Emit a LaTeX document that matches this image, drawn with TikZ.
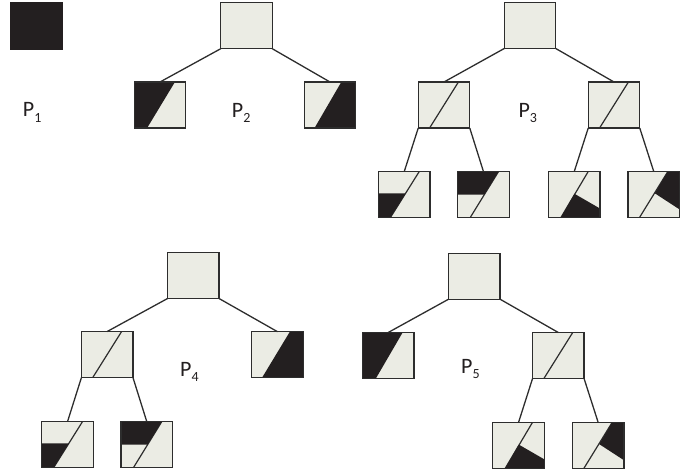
\documentclass[tikz,border=0pt]{standalone}
\usepackage{fontspec}
\setmainfont{Carlito}
\usetikzlibrary{calc}
\definecolor{lite}{RGB}{235,236,228}
\definecolor{dark}{RGB}{35,31,32}
\definecolor{edge}{RGB}{45,45,45}
\newcommand\inbox[2]{%
  \begin{scope}[shift={(#1.north west)}, x=51.5pt, y=-46pt]#2\end{scope}%
  \draw[boxline] (#1.north west) rectangle (#1.south east);}
\newcommand\sub[1]{\raisebox{-5.5pt}{\fontsize{14}{14}\selectfont #1}}
\begin{document}
\begin{tikzpicture}[x=1pt,y=-1pt,
  box/.style={draw=edge, line width=1.4pt, fill=lite, minimum width=51.5pt, minimum height=46pt, inner sep=0pt, outer sep=0pt},
  blackbox/.style={box, fill=dark, draw=dark},
  boxline/.style={draw=edge, line width=1.4pt},
  link/.style={draw=edge, line width=1.3pt},
  diag/.style={draw=edge, line width=1.2pt},
  lbl/.style={font=\fontsize{22}{22}\selectfont, inner sep=0pt, anchor=base west, text=dark},
  halfL/.code={}, 
]
\useasboundingbox (0,0) rectangle (700,474);
% P1
\node[blackbox] (a1) at (36.7,26) {};
\node[lbl] (l1) at (22.7,116.7) {P\sub{1}};
% P2
\node[box] (b0) at (246.5,25.7) {};
\node[box] (b1) at (160,105) {};
\node[box] (b2) at (330,105) {};
\node[lbl] (l2) at (231.7,117) {P\sub{2}};
% P3
\node[box] (c0) at (530,25.5) {};
\node[box] (c1) at (444,105) {};
\node[box] (c2) at (614,105) {};
\node[box] (c11) at (404.2,194.7) {};
\node[box] (c12) at (483.5,194.7) {};
\node[box] (c21) at (574.2,194.7) {};
\node[box] (c22) at (653.8,194.7) {};
\node[lbl] (l3) at (518.3,117) {P\sub{3}};
% P4
\node[box] (d0) at (193.3,275.5) {};
\node[box] (d1) at (107.2,354.5) {};
\node[box] (d2) at (277.5,354.7) {};
\node[box] (d11) at (67.5,444.7) {};
\node[box] (d12) at (146.8,444.7) {};
\node[lbl] (l4) at (180,376) {P\sub{4}};
% P5
\node[box] (e0) at (474.3,276.2) {};
\node[box] (e1) at (388.2,355.5) {};
\node[box] (e2) at (558.3,355.5) {};
\node[box] (e21) at (518.5,445.5) {};
\node[box] (e22) at (598.2,445.5) {};
\node[lbl] (l5) at (461,373) {P\sub{5}};
% connectors
\foreach \p/\c in {b0/b1,c0/c1,c1/c11,c2/c21,d0/d1,d1/d11,e0/e1,e2/e21}
  \draw[link] (\p.south west) -- (\c.north);
\foreach \p/\c in {b0/b2,c0/c2,c1/c12,c2/c22,d0/d2,d1/d12,e0/e2,e2/e22}
  \draw[link] (\p.south east) -- (\c.north);
% patterns
\inbox{b1}{\fill[dark] (0,0)--(0.79,0)--(0.25,1)--(0,1)--cycle;}
\inbox{e1}{\fill[dark] (0,0)--(0.78,0)--(0.26,1)--(0,1)--cycle;}
\inbox{b2}{\fill[dark] (0.72,0)--(1,0)--(1,1)--(0.2,1)--cycle;}
\inbox{d2}{\fill[dark] (0.74,0)--(1,0)--(1,1)--(0.2,1)--cycle;}
\foreach \n in {c1,c2,d1,e2}{\inbox{\n}{\draw[diag] (0.22,1)--(0.78,0);}}
\foreach \n in {c11,d11}{\inbox{\n}{\draw[diag] (0.23,1)--(0.79,0);
   \fill[dark] (0,0.47)--(0.527,0.47)--(0.23,1)--(0,1)--cycle;}}
\foreach \n in {c12,d12}{\inbox{\n}{\draw[diag] (0.24,1)--(0.79,0);
   \fill[dark] (0,0)--(0.79,0)--(0.515,0.5)--(0,0.5)--cycle;}}
\foreach \n in {c21,e21}{\inbox{\n}{\draw[diag] (0.24,1)--(0.77,0);
   \fill[dark] (0.505,0.48)--(1,0.8)--(1,1)--(0.24,1)--cycle;}}
\foreach \n in {c22,e22}{\inbox{\n}{\draw[diag] (0.22,1)--(0.77,0);
   \fill[dark] (0.77,0)--(1,0)--(1,0.82)--(0.52,0.47)--cycle;}}
\end{tikzpicture}
\end{document}
